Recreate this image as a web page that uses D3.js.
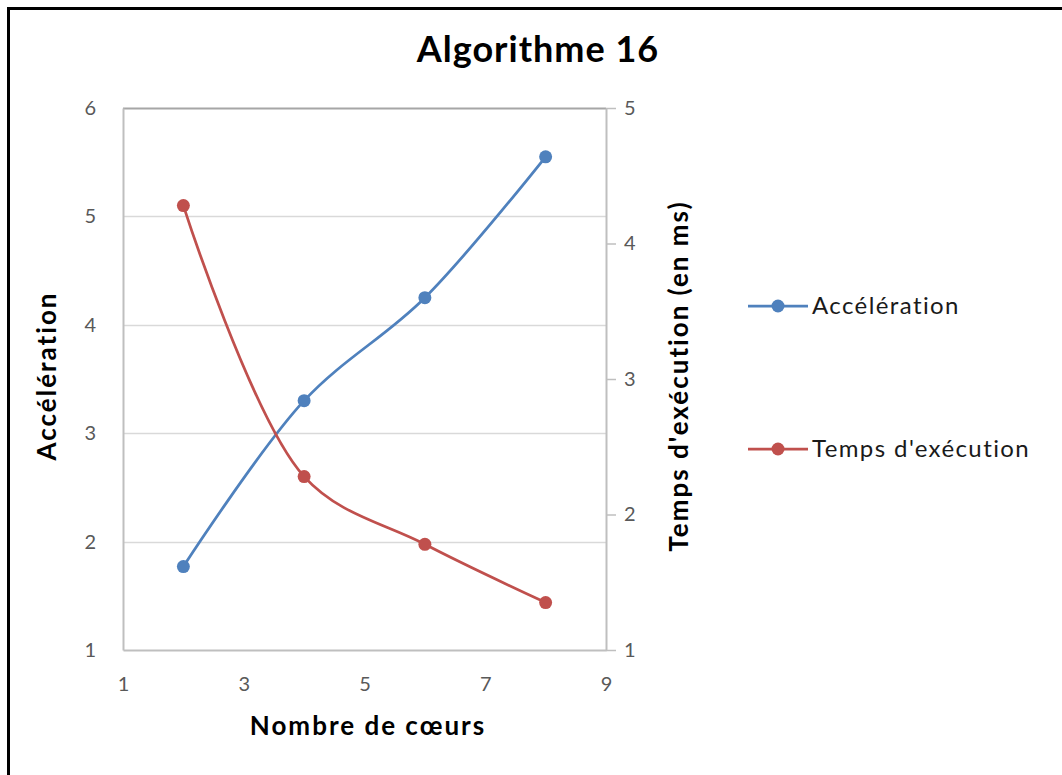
<!DOCTYPE html>
<html>
<head>
<meta charset="utf-8">
<script src="https://cdn.jsdelivr.net/npm/d3@7"></script>
<style>
  body { margin: 0; background: #fff; }
  text { font-family: Lato, "Open Sans", sans-serif; }
</style>
</head>
<body>
<div class="chart"></div>
<script>
'use strict';
var coeurs = [2, 4, 6, 8];
var acceleration = [1.77, 3.3, 4.25, 5.55];
var tempsExec = [4.28, 2.28, 1.78, 1.35];
var xTicks = [1, 3, 5, 7, 9];
var leftTicks = [1, 2, 3, 4, 5, 6];
var rightTicks = [1, 2, 3, 4, 5];
var seriesNames = ["Accélération", "Temps d'exécution"];

var W = 1062, H = 775;
var plot = {left: 123, right: 606, top: 108, bottom: 650};
var blue = "#4f81bd", red = "#c0504d";

var svg = d3.select(".chart").append("svg")
  .attr("width", W).attr("height", H);

// outer frame (right/bottom cut off like the screenshot)
svg.append("rect")
  .attr("x", 8.5).attr("y", 8.5)
  .attr("width", 1100).attr("height", 800)
  .attr("fill", "none").attr("stroke", "#000").attr("stroke-width", 3);

var x = d3.scaleLinear().domain([1, 9]).range([plot.left, plot.right]);
var yL = d3.scaleLinear().domain([1, 6]).range([plot.bottom, plot.top]);
var yR = d3.scaleLinear().domain([1, 5]).range([plot.bottom, plot.top]);

// gridlines
svg.append("g").selectAll("line")
  .data(leftTicks.slice(1))
  .enter().append("line")
    .attr("x1", plot.left).attr("x2", plot.right)
    .attr("y1", d => Math.round(yL(d)) + 0.5).attr("y2", d => Math.round(yL(d)) + 0.5)
    .attr("stroke", d => d === 6 ? "#a6a6a6" : "#d9d9d9").attr("stroke-width", d => d === 6 ? 2 : 1.5);

// left axis
var gL = svg.append("g")
  .attr("transform", "translate(" + plot.left + ",0)")
  .call(d3.axisLeft(yL).tickValues(leftTicks).tickSize(0).tickPadding(27).tickFormat(d3.format("d")));
gL.select(".domain").attr("stroke", "#bfbfbf").attr("stroke-width", 2);

// right axis
var gR = svg.append("g")
  .attr("transform", "translate(" + plot.right + ",0)")
  .call(d3.axisRight(yR).tickValues(rightTicks).tickSize(10).tickSizeOuter(0).tickPadding(8).tickFormat(d3.format("d")));
gR.select(".domain").attr("stroke", "#bfbfbf").attr("stroke-width", 2);
gR.selectAll(".tick line").attr("stroke", "#bfbfbf").attr("stroke-width", 1.5);

// bottom axis
var gX = svg.append("g")
  .attr("transform", "translate(0," + plot.bottom + ")")
  .call(d3.axisBottom(x).tickValues(xTicks).tickSize(0).tickPadding(27).tickFormat(d3.format("d")));
gX.select(".domain").attr("stroke", "#bfbfbf").attr("stroke-width", 2);

svg.selectAll(".tick text")
  .attr("fill", "#595959").style("font-size", "20px").style("font-family", "Lato, sans-serif");

// series
var series = [
  {name: seriesNames[0], values: acceleration, y: yL, color: blue},
  {name: seriesNames[1], values: tempsExec, y: yR, color: red}
];

series.forEach(function(s) {
  var pts = coeurs.map((c, i) => [c, s.values[i]]);
  var line = d3.line()
    .x(d => x(d[0])).y(d => s.y(d[1]))
    .curve(d3.curveCatmullRom.alpha(0.5));
  svg.append("path")
    .datum(pts)
    .attr("d", line)
    .attr("fill", "none").attr("stroke", s.color).attr("stroke-width", 2.75);
  svg.append("g").selectAll("circle")
    .data(pts)
    .enter().append("circle")
      .attr("cx", d => x(d[0])).attr("cy", d => s.y(d[1]))
      .attr("r", 6.5).attr("fill", s.color);
});

// titles
svg.append("text")
  .attr("x", 538).attr("y", 62)
  .attr("text-anchor", "middle")
  .style("font-size", "36px").style("font-weight", "bold").style("letter-spacing", "1px")
  .text("Algorithme 16");

svg.append("text")
  .attr("transform", "translate(56,376) rotate(-90)")
  .attr("text-anchor", "middle")
  .style("font-size", "26px").style("font-weight", "bold").style("letter-spacing", "2px")
  .text("Accélération");

svg.append("text")
  .attr("transform", "translate(688,376) rotate(-90)")
  .attr("text-anchor", "middle")
  .style("font-size", "26px").style("font-weight", "bold").style("letter-spacing", "2px")
  .text("Temps d'exécution (en ms)");

svg.append("text")
  .attr("x", 368).attr("y", 735)
  .attr("text-anchor", "middle")
  .style("font-size", "26px").style("font-weight", "bold").style("letter-spacing", "2px")
  .text("Nombre de cœurs");

// legend
var legY = [306, 449];
var leg = svg.append("g").selectAll("g")
  .data(series)
  .enter().append("g")
    .attr("transform", (d, i) => "translate(748," + legY[i] + ")");
leg.append("line")
  .attr("x1", 0).attr("x2", 60)
  .attr("stroke", d => d.color).attr("stroke-width", 2.75);
leg.append("circle")
  .attr("cx", 30).attr("r", 6.5).attr("fill", d => d.color);
leg.append("text")
  .attr("x", 64).attr("dy", "0.35em")
  .style("font-size", "24px").style("letter-spacing", "1.4px")
  .attr("fill", "#1a1a1a")
  .text(d => d.name);
</script>
</body>
</html>
